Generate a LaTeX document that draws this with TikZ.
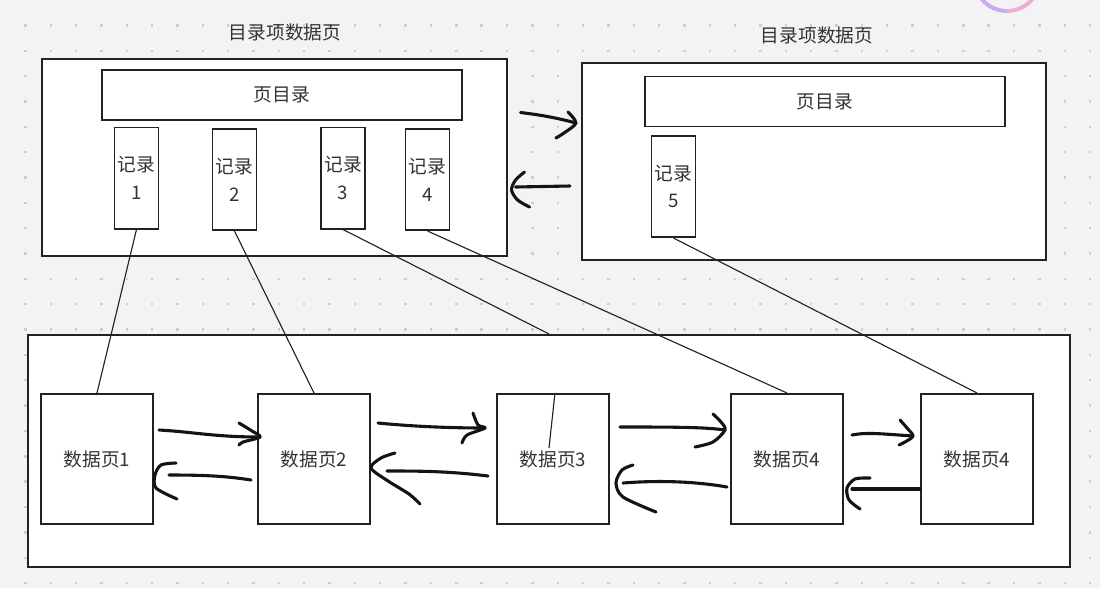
\documentclass[tikz,border=0pt]{standalone}
\usepackage{fontspec}
\newfontfamily\cjk{Noto Sans CJK SC}

\definecolor{bgc}{RGB}{243,243,245}
\definecolor{dotc}{RGB}{205,205,210}
\definecolor{linec}{RGB}{34,34,34}
\definecolor{textc}{RGB}{51,51,51}
\definecolor{ringa}{RGB}{200,172,240}
\definecolor{ringb}{RGB}{240,172,212}

\begin{document}
\begin{tikzpicture}[
    x=0.025cm, y=-0.025cm,
    frame/.style={rectangle, draw=linec, fill=white, line width=1.4pt, minimum width=11.6cm, minimum height=4.925cm},
    pagedir/.style={rectangle, draw=linec, fill=white, line width=1.4pt, minimum width=9cm, minimum height=1.25cm, text=textc, font=\cjk\fontsize{13.3}{16}\selectfont},
    record/.style={rectangle, draw=linec, fill=white, line width=1.4pt, minimum width=1.1cm, minimum height=2.525cm, inner sep=0pt, align=center, text=textc, font=\cjk\fontsize{13.3}{19.8}\selectfont},
    store/.style={rectangle, draw=linec, fill=white, line width=1.4pt, minimum width=26.05cm, minimum height=5.8cm},
    datapage/.style={rectangle, draw=linec, fill=white, line width=1.4pt, minimum width=2.8cm, minimum height=3.25cm, text=textc, font=\cjk\fontsize{13.3}{16}\selectfont},
    title/.style={text=textc, font=\cjk\fontsize{13.3}{16}\selectfont},
    link/.style={draw=linec, line width=0.8pt},
    hand/.style={draw=black!92, line width=2.2pt, line cap=round, line join=round}
]

% -------- Canvas --------
\fill[bgc] (0,0) rectangle (1100,588);
\useasboundingbox (0,0) rectangle (1100,588);
\foreach \i in {1,...,43} {
    \foreach \j in {1,...,23} {
        \fill[dotc] (\i*25.35-1.2,\j*25.35-1.2) rectangle +(2.4,2.4);
    }
}
\draw[ringa, line width=2.8pt] (1007,-22) ++(200:0.825cm) arc[start angle=200, end angle=270, radius=0.825cm];
\draw[ringb, line width=2.8pt] (1007,-22) ++(270:0.825cm) arc[start angle=270, end angle=340, radius=0.825cm];

% -------- Left directory page --------
\node[title] (ltitle) at (285,32) {目录项数据页};
\node[frame] (lframe) at (274.5,157.5) {};
\node[pagedir] (ldir) at (282,95) {页目录};
\foreach \x/\y/\i in {136.5/178/1, 234.5/179.5/2, 343/178/3, 427.5/179.5/4} {
    \node[record] (rec\i) at (\x,\y) {记录\\\i};
}

% -------- Right directory page --------
\node[title] (rtitle) at (817,35) {目录项数据页};
\node[frame] (rframe) at (814,161.5) {};
\node[pagedir] (rdir) at (825,101.5) {页目录};
\node[record] (rec5) at (673.5,186.5) {记录\\5};

% -------- Data pages --------
\node[store] (store) at (549,451) {};
\foreach \x/\i/\t in {97/1/1, 314/2/2, 553/3/3, 787/4/4, 977/5/4} {
    \node[datapage] (d\i) at (\x,459) {数据页\t};
}

% -------- Record -> data page --------
\draw[link] (rec1.south) -- (d1.north);
\draw[link] (rec2.south) -- (d2.north);
\draw[link] (rec3.south) -- (store.north);
\coordinate (t3) at (549,448);
\draw[link] ([xshift=1.4pt]d3.north) -- (t3);
\draw[link] (rec4.south) -- (d4.north);
\draw[link] (rec5.south) -- (d5.north);

% -------- Directory pages (hand drawn) --------
\coordinate (t1s) at ([shift={(13,-45)}]lframe.east);
\coordinate (t1e) at ([shift={(-5,-38.5)}]rframe.west);
\draw[hand] (t1s) .. controls +(25,3) and +(-15,-4) .. (t1e);
\draw[hand, shift={(t1e)}] plot[smooth] coordinates {(-8,-11) (0,0) (-12,10) (-20,15)};

\coordinate (t2s) at ([shift={(-11,24.5)}]rframe.west);
\coordinate (t2e) at ([shift={(8,29.5)}]lframe.east);
\draw[hand] (t2s) -- (t2e);
\draw[hand, shift={(t2e)}] plot[smooth] coordinates {(9,-15) (0,-7) (-4,3) (2,13) (14,20)};

% -------- Data pages (hand drawn) --------
% d1 -> d2
\coordinate (a1s) at ([shift={(5,-29)}]d1.east);
\coordinate (a1e) at ([shift={(3,-22)}]d2.west);
\draw[hand] (a1s) .. controls +(35,2) and +(-45,0) .. (a1e);
\draw[hand, shift={(a1e)}] plot[smooth] coordinates {(-21,-14) (-8,-6) (0,0) (-17,5) (-21,8)};

% d2 -> d1
\coordinate (a2s) at ([shift={(-6,21)}]d2.west);
\coordinate (a2e) at ([shift={(15,16)}]d1.east);
\draw[hand] (a2s) .. controls +(-25,-4) and +(35,0) .. (a2e);
\draw[hand, shift={(a2e)}] plot[smooth] coordinates {(7,-12) (-8,-10) (-14,0) (-13,13) (8,24)};

% d2 -> d3
\coordinate (a3s) at ([shift={(7,-36)}]d2.east);
\coordinate (a3e) at ([shift={(-11,-31)}]d3.west);
\draw[hand] (a3s) .. controls +(30,3) and +(-40,0) .. (a3e);
\draw[hand, shift={(a3e)}] plot[smooth] coordinates {(-12,-15) (-7,-3) (0,0) (-18,7) (-23,15)};

% d3 -> d2
\coordinate (a4s) at ([shift={(-8,17)}]d3.west);
\coordinate (a4e) at ([shift={(16,12)}]d2.east);
\draw[hand] (a4s) .. controls +(-40,-5) and +(30,0) .. (a4e);
\draw[hand, shift={(a4e)}] plot[smooth] coordinates {(8,-18) (-6,-13) (-16,-3) (1,10) (22,23) (33,33)};

% d3 -> d4
\coordinate (a5s) at ([shift={(10,-32)}]d3.east);
\coordinate (a5e) at ([shift={(-5,-29)}]d4.west);
\draw[hand] (a5s) .. controls +(50,0) and +(-20,-3) .. (a5e);
\draw[hand, shift={(a5e)}] plot[smooth] coordinates {(-12,-16) (-4,-8) (0,0) (-12,12) (-30,17)};

% d4 -> d3
\coordinate (a6s) at ([shift={(-3,28)}]d4.west);
\coordinate (a6e) at ([shift={(13,24)}]d3.east);
\draw[hand] (a6s) .. controls +(-40,-7) and +(25,-2) .. (a6e);
\draw[hand, shift={(a6e)}] plot[smooth] coordinates {(10,-18) (-1,-13) (-7,0) (0,14) (33,29)};

% d4 -> d5
\coordinate (a7s) at ([shift={(8,-24)}]d4.east);
\coordinate (a7e) at ([shift={(-7,-23)}]d5.west);
\draw[hand] (a7s) .. controls +(15,-3) and +(-30,-2) .. (a7e);
\draw[hand, shift={(a7e)}] plot[smooth] coordinates {(-13,-16) (-6,-8) (0,0) (-8,6) (-14,9)};

% d5 -> d4
\coordinate (a8s) at ([shift={(0,30)}]d5.west);
\coordinate (a8e) at ([shift={(8,30)}]d4.east);
\draw[hand] (a8s) -- (a8e);
\draw[hand, shift={(a8e)}] plot[smooth] coordinates {(18,-11) (3,-10) (-5,-1) (-3,11) (8,20)};

\end{tikzpicture}
\end{document}
